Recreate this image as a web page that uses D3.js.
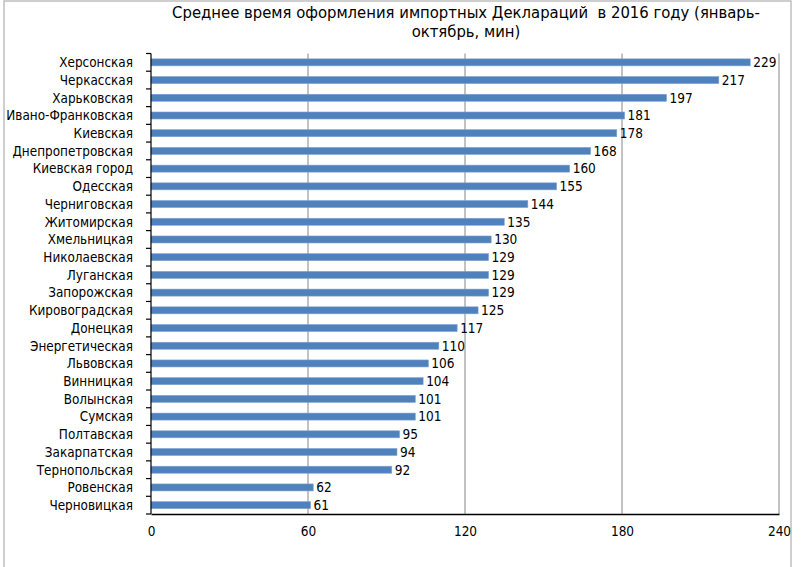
<!DOCTYPE html>
<html><head><meta charset="utf-8">
<script src="https://cdn.jsdelivr.net/npm/d3@7"></script>
<style>
html,body{margin:0;padding:0;background:#fff;}
text{font-family:"DejaVu Sans Condensed","DejaVu Sans",sans-serif;font-stretch:condensed;fill:#000;}
</style></head>
<body>
<svg id="chart" width="804" height="567"></svg>
<script>
const categories = ["Херсонская","Черкасская","Харьковская","Ивано-Франковская","Киевская","Днепропетровская","Киевская город","Одесская","Черниговская","Житомирская","Хмельницкая","Николаевская","Луганская","Запорожская","Кировоградская","Донецкая","Энергетическая","Львовская","Винницкая","Волынская","Сумская","Полтавская","Закарпатская","Тернопольская","Ровенская","Черновицкая"];
const values = [229,217,197,181,178,168,160,155,144,135,130,129,129,129,125,117,110,106,104,101,101,95,94,92,62,61];
const xTicks = [0,60,120,180,240];
const titleLines = ["Среднее время оформления импортных Деклараций  в 2016 году (январь-","октябрь, мин)"];

const svg = d3.select("#chart");
const pL = 151, pR = 779, pT = 53.5, pB = 514;

svg.append("rect").attr("x",4).attr("y",1).attr("width",787).attr("height",580)
  .attr("fill","#fff").attr("stroke","#bfbfbf").attr("stroke-width",1.5);

const x = d3.scaleLinear().domain([0,240]).range([pL,pR]);
const y = d3.scaleBand().domain(categories).range([pT,pB]);

// gridlines
svg.append("g").selectAll("line").data(xTicks.slice(1)).join("line")
  .attr("x1",d=>x(d)).attr("x2",d=>x(d)).attr("y1",pT).attr("y2",pB)
  .attr("stroke","#868686").attr("stroke-width",1);

// bars
svg.append("g").selectAll("rect").data(values).join("rect")
  .attr("x",x(0)).attr("y",(d,i)=>y(categories[i]) + y.bandwidth()/2 - 3.5)
  .attr("width",d=>x(d)-x(0)).attr("height",7)
  .attr("fill","#4f81bd").attr("stroke","#7fa2cf").attr("stroke-width",0.6);

// value labels
svg.append("g").selectAll("text").data(values).join("text")
  .attr("x",d=>x(d)+3).attr("y",(d,i)=>y(categories[i]) + y.bandwidth()/2)
  .attr("dy","0.36em").attr("font-size",13.5).text(d=>d);

// y axis
const yAxis = svg.append("g").attr("transform",`translate(${pL},0)`);
yAxis.append("line").attr("x1",0).attr("x2",0).attr("y1",pT).attr("y2",pB).attr("stroke","#000").attr("stroke-width",1.2);
yAxis.selectAll("line.t").data(d3.range(categories.length+1)).join("line").attr("class","t")
  .attr("x1",-5).attr("x2",0)
  .attr("y1",i=>pT + i*y.step()).attr("y2",i=>pT + i*y.step())
  .attr("stroke","#000").attr("stroke-width",1.2);
yAxis.selectAll("text").data(categories).join("text")
  .attr("x",-18).attr("y",d=>y(d)+y.bandwidth()/2).attr("dy","0.36em")
  .attr("text-anchor","end").attr("font-size",13.4).text(d=>d);

// x axis
const xAxis = d3.axisBottom(x).tickValues(xTicks).tickSize(0).tickPadding(12);
const gx = svg.append("g").attr("transform",`translate(0,${pB})`).call(xAxis);
gx.select(".domain").attr("stroke","#000").attr("stroke-width",1.5);
gx.selectAll("text").attr("font-size",13.5).attr("font-family",null);

// title
svg.append("g").selectAll("text").data(titleLines).join("text")
  .attr("x",466).attr("y",(d,i)=>18 + i*19).attr("text-anchor","middle")
  .attr("xml:space","preserve").style("white-space","pre")
  .attr("font-size",16.5).text(d=>d);
</script>
</body></html>
